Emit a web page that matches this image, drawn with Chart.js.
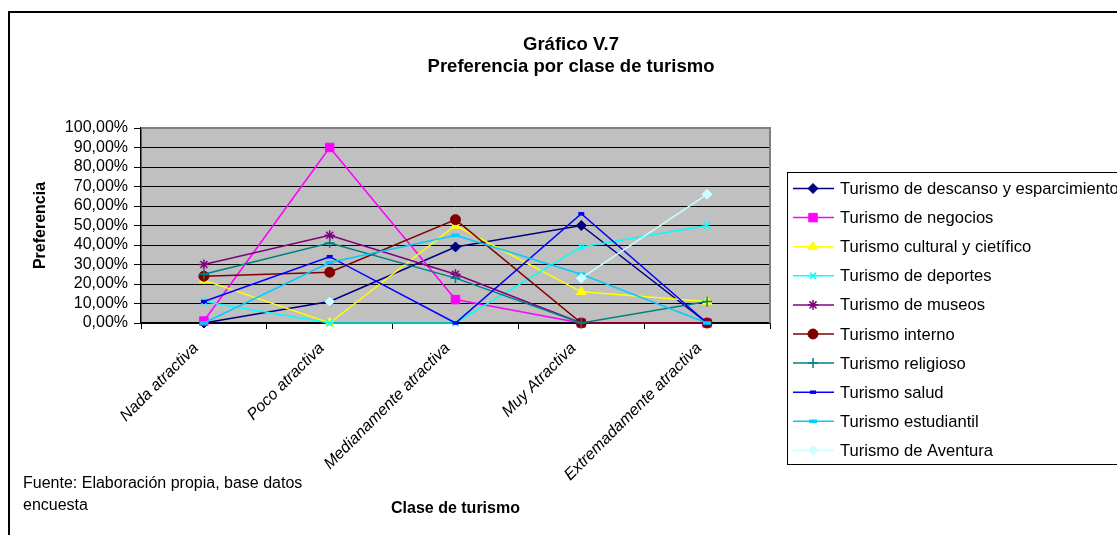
<!DOCTYPE html>
<html>
<head>
<meta charset="utf-8">
<title>Gráfico V.7</title>
<script src="https://cdn.jsdelivr.net/npm/chart.js@4/dist/chart.umd.min.js"></script>
<style>
  html, body { margin: 0; padding: 0; background: #fff; overflow: hidden; }
  canvas { display: block; }
</style>
</head>
<body>
<canvas id="chart" width="1117" height="535"></canvas>
<script>
"use strict";

// ── Data ─────────────────────────────────────────────────────────────
const categories = ["Nada atractiva", "Poco atractiva", "Medianamente atractiva",
                    "Muy Atractiva", "Extremadamente atractiva"];

const descanso    = [0, 11, 39, 50, 0];
const negocios    = [1, 90, 12, 0, 0];
const cultural    = [22, 0, 50, 16, 11];
const deportes    = [11, 0, 0, 39, 50];
const museos      = [30, 45, 25, 0, 0];
const interno     = [24, 26, 53, 0, 0];
const religioso   = [25, 41, 23, 0, 11];
const salud       = [11, 34, 0, 56, 0];
const estudiantil = [0, 31, 45, 25, 0];
const aventura    = [null, 11, null, 23, 66];

const seriesNames = ["Turismo de descanso y esparcimiento", "Turismo de negocios",
  "Turismo cultural y cietífico", "Turismo de deportes", "Turismo de museos",
  "Turismo interno", "Turismo religioso", "Turismo salud", "Turismo estudiantil",
  "Turismo de Aventura"];

const yMin = 0, yMax = 100, yStep = 10;

// ── Styles ───────────────────────────────────────────────────────────
const FONT = "'Liberation Sans', Arial, sans-serif";

const seriesStyle = [
  { color: "#000080", point: "rectRot",  r: 5 },
  { color: "#ff00ff", point: "rect",     r: 6 },
  { color: "#ffff00", point: "triangle", r: 5.5 },
  { color: "#00ffff", point: "crossRot", r: 4.5, bw: 1.5 },
  { color: "#800080", point: "star",     r: 5, bw: 1.5 },
  { color: "#800000", point: "circle",   r: 5 },
  { color: "#008080", point: "cross",    r: 5, bw: 1.5 },
  { color: "#0000ff", point: "line",     r: 3, bw: 3.5 },
  { color: "#00ccff", point: "line",     r: 4, bw: 3.5 },
  { color: "#ccffff", point: "rectRot",  r: 5 },
];

const values = [descanso, negocios, cultural, deportes, museos,
                interno, religioso, salud, estudiantil, aventura];

const datasets = values.map((data, i) => {
  const s = seriesStyle[i];
  return {
    label: seriesNames[i],
    data,
    borderColor: s.color,
    backgroundColor: s.color,
    borderWidth: 1.5,
    pointStyle: s.point,
    pointRadius: s.r,
    pointBorderWidth: s.bw || 1,
    pointBackgroundColor: s.color,
    pointBorderColor: s.color,
    tension: 0,
    spanGaps: false,
    clip: 12,
    order: values.length - i,   // later series drawn on top, like Excel
  };
});

// ── Plugins ──────────────────────────────────────────────────────────
const pageDecor = {
  id: "pageDecor",
  beforeDraw(chart) {
    const { ctx, chartArea: a } = chart;
    ctx.save();
    ctx.fillStyle = "#fff";
    ctx.fillRect(0, 0, chart.width, chart.height);
    // outer frame (runs off the right and bottom edges)
    ctx.strokeStyle = "#000";
    ctx.lineWidth = 2;
    ctx.beginPath();
    ctx.moveTo(9, chart.height + 2);
    ctx.lineTo(9, 12);
    ctx.lineTo(chart.width + 2, 12);
    ctx.stroke();
    // plot background
    ctx.fillStyle = "#c0c0c0";
    ctx.fillRect(a.left, a.top, a.right - a.left, a.bottom - a.top);
    ctx.restore();
  },
  beforeDatasetsDraw(chart) {
    const { ctx, chartArea: a } = chart;
    ctx.save();
    ctx.strokeStyle = "#808080";
    ctx.lineWidth = 2;
    ctx.beginPath();
    ctx.moveTo(a.left, a.top);
    ctx.lineTo(a.right, a.top);
    ctx.lineTo(a.right, a.bottom);
    ctx.stroke();
    ctx.restore();
  },
  afterDraw(chart) {
    const { ctx } = chart;
    ctx.save();
    ctx.fillStyle = "#000";
    ctx.textAlign = "center";
    ctx.textBaseline = "middle";
    ctx.font = "bold 18.5px " + FONT;
    ctx.fillText("Gráfico V.7", 571, 45);
    ctx.fillText("Preferencia por clase de turismo", 571, 67);

    ctx.textAlign = "left";
    ctx.font = "16px " + FONT;
    ctx.fillText("Fuente: Elaboración propia, base datos", 23, 484);
    ctx.fillText("encuesta", 23, 506);
    ctx.restore();
  },
};

const boxLegend = {
  id: "boxLegend",
  afterDraw(chart) {
    const { ctx } = chart;
    const box = { x: 787, y: 172, w: 340, h: 292 };
    ctx.save();
    ctx.strokeStyle = "#000";
    ctx.lineWidth = 1;
    ctx.strokeRect(box.x + 0.5, box.y + 0.5, box.w, box.h);
    ctx.font = "16.6px " + FONT;
    ctx.textBaseline = "middle";
    ctx.textAlign = "left";
    chart.data.datasets.forEach((ds, i) => {
      const y = 188.5 + i * 29.1;
      ctx.strokeStyle = ds.borderColor;
      ctx.lineWidth = 1.5;
      ctx.beginPath();
      ctx.moveTo(793, y);
      ctx.lineTo(834, y);
      ctx.stroke();
      ctx.fillStyle = ds.pointBackgroundColor;
      ctx.strokeStyle = ds.pointBorderColor;
      ctx.lineWidth = ds.pointBorderWidth;
      if (Chart.helpers && Chart.helpers.drawPoint) {
        Chart.helpers.drawPoint(ctx, {
          pointStyle: ds.pointStyle, radius: ds.pointRadius,
          rotation: 0, borderWidth: ds.pointBorderWidth,
        }, 813, y);
      }
      ctx.fillStyle = "#000";
      ctx.fillText(ds.label, 840, y + 1);
    });
    ctx.restore();
  },
};

// ── Chart ────────────────────────────────────────────────────────────
new Chart(document.getElementById("chart"), {
  type: "line",
  data: { labels: categories, datasets },
  options: {
    responsive: false,
    animation: false,
    devicePixelRatio: 1,
    layout: { padding: { left: 0, right: 347, top: 128, bottom: 0 } },
    plugins: {
      legend: { display: false },
      title: { display: false },
      tooltip: { enabled: false },
    },
    scales: {
      x: {
        type: "category",
        offset: true,
        afterFit(scale) { scale.height = 212; },
        grid: {
          offset: true, drawOnChartArea: false, drawTicks: true,
          tickLength: 6, color: "#000", lineWidth: 1,
        },
        border: { display: true, color: "#000", width: 1.5 },
        ticks: {
          color: "#000", maxRotation: 45, minRotation: 45, autoSkip: false,
          padding: 10, labelOffset: -8,
          font: { family: FONT, size: 16, style: "italic" },
        },
        title: {
          display: true, text: "Clase de turismo", color: "#000",
          font: { family: FONT, size: 16, weight: "bold" },
          padding: { top: 0, bottom: 17 },
        },
      },
      y: {
        min: yMin, max: yMax,
        afterFit(scale) { scale.width = 141; },
        grid: { color: "#000", lineWidth: 1, tickLength: 7, drawTicks: true },
        border: { display: true, color: "#000", width: 1.5 },
        ticks: {
          stepSize: yStep, autoSkip: false, color: "#000", padding: 6,
          font: { family: FONT, size: 16 },
          callback: v => v.toFixed(2).replace(".", ",") + "%",
        },
        title: {
          display: true, text: "Preferencia", color: "#000",
          font: { family: FONT, size: 16, weight: "bold" },
          padding: { top: 31, bottom: 0 },
        },
      },
    },
  },
  plugins: [pageDecor, boxLegend],
});
</script>
</body>
</html>
